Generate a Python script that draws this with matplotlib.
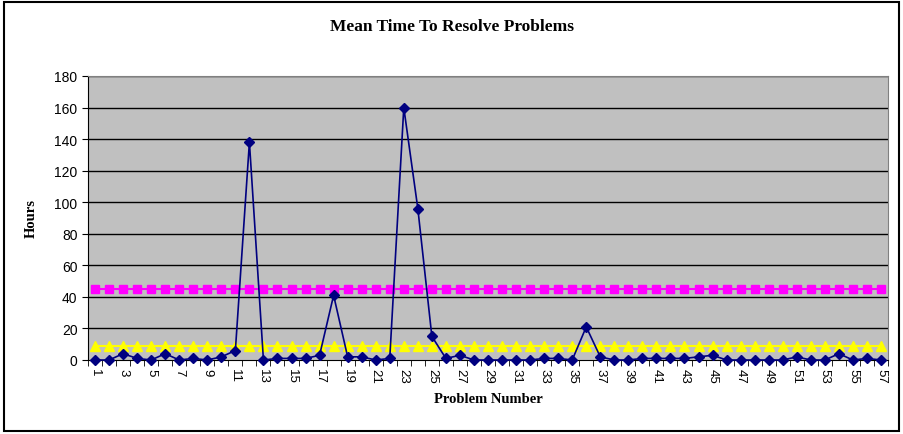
import numpy as np
import matplotlib
matplotlib.use('Agg')
import matplotlib.pyplot as plt
from matplotlib.patches import Rectangle

# 数据
problems = list(range(1, 58))
hours = [0, 0, 4, 1, 0, 4, 0, 1, 0, 2,
         6, 138, 0, 1, 1, 1, 3, 41, 2, 2,
         0, 1, 160, 96, 15, 1, 3, 0, 0, 0,
         0, 0, 1, 1, 0, 21, 2, 0, 0, 1,
         1, 1, 1, 2, 3, 0, 0, 0, 0, 0,
         2, 0, 0, 4, 0, 1, 0]
mean_level = [45] * 57
target_level = [9] * 57
y_ticks = list(range(0, 181, 20))

fig = plt.figure(figsize=(9.04, 4.35), dpi=100)
fig.patch.set_facecolor('white')
fig.patches.append(Rectangle((0.004, 0.006), 0.99, 0.988, transform=fig.transFigure,
                             fill=False, edgecolor='black', linewidth=1.5))

ax = fig.add_axes([88 / 904, (435 - 361) / 435, 800 / 904, 284 / 435])
ax.set_facecolor('#C0C0C0')

for t in y_ticks[1:]:
    ax.axhline(t, color='black', linewidth=1, zorder=1)

ax.plot(problems, target_level, color='#FFFF00', marker='^', markersize=7.5,
        linewidth=1.5, zorder=3, clip_on=False)
ax.plot(problems, mean_level, color='#FF00FF', marker='s', markersize=6,
        linewidth=1.5, zorder=3)
ax.plot(problems, hours, color='#000080', marker='D', markersize=5.5,
        linewidth=1.2, zorder=4, clip_on=False)

ax.set_xlim(0.5, 57.5)
ax.set_ylim(0, 180)
ax.set_yticks(y_ticks)
ax.set_xticks(problems[::2])
ax.set_xticklabels([str(p) for p in problems[::2]], rotation=270,
                   fontfamily='Liberation Sans', fontsize=9.5)
ax.set_xticks(np.arange(0.5, 58, 1), minor=True)
ax.tick_params(axis='x', which='major', length=0, pad=6)
ax.tick_params(axis='x', which='minor', length=4, direction='out', color='black')
ax.tick_params(axis='y', length=4, direction='out', labelsize=10)
for lbl in ax.get_yticklabels():
    lbl.set_fontfamily('Liberation Sans')

ax.spines['left'].set_color('black')
ax.spines['bottom'].set_color('black')
ax.spines['top'].set_color('#808080')
ax.spines['right'].set_color('#808080')

ax.set_ylabel('Hours', fontfamily='Liberation Serif', fontweight='bold',
              fontsize=10.5, labelpad=12)
ax.set_xlabel('Problem Number', fontfamily='Liberation Serif', fontweight='bold',
              fontsize=10.5, labelpad=6)
fig.text(0.5, 1 - 27 / 435, 'Mean Time To Resolve Problems', ha='center', va='center',
         fontfamily='Liberation Serif', fontweight='bold', fontsize=12.5)

fig.savefig('out.png', dpi=100)
